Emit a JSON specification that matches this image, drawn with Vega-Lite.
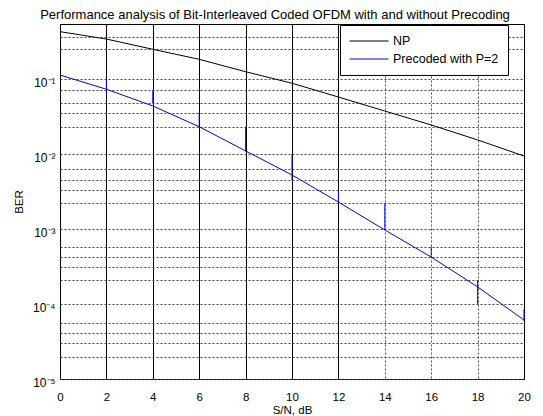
{
  "$schema": "https://vega.github.io/schema/vega-lite/v6.json",
  "width": 464,
  "height": 355,
  "autosize": {"type": "none"},
  "padding": {"left": 60, "top": 24, "right": 19, "bottom": 37},
  "background": "white",
  "title": {"text": "Performance analysis of Bit-Interleaved Coded OFDM with and without Precoding", "fontSize": 13, "font": "Liberation Sans", "fontWeight": "normal", "offset": 2, "dx": -17, "color": "black"},
  "config": {"view": {"stroke": "black", "strokeWidth": 1}, "font": "Liberation Sans"},
  "datasets": {
    "curves": [
      {"snr": 0, "ber": 0.428, "series": "NP"},
      {"snr": 2, "ber": 0.341, "series": "NP"},
      {"snr": 4, "ber": 0.249, "series": "NP"},
      {"snr": 6, "ber": 0.183, "series": "NP"},
      {"snr": 8, "ber": 0.125, "series": "NP"},
      {"snr": 10, "ber": 0.0878, "series": "NP"},
      {"snr": 12, "ber": 0.0575, "series": "NP"},
      {"snr": 14, "ber": 0.0374, "series": "NP"},
      {"snr": 16, "ber": 0.0244, "series": "NP"},
      {"snr": 18, "ber": 0.0154, "series": "NP"},
      {"snr": 20, "ber": 0.0094, "series": "NP"},
      {"snr": 0, "ber": 0.113, "series": "Precoded with P=2"},
      {"snr": 2, "ber": 0.073, "series": "Precoded with P=2"},
      {"snr": 4, "ber": 0.0437, "series": "Precoded with P=2"},
      {"snr": 6, "ber": 0.0231, "series": "Precoded with P=2"},
      {"snr": 8, "ber": 0.011, "series": "Precoded with P=2"},
      {"snr": 10, "ber": 0.00525, "series": "Precoded with P=2"},
      {"snr": 12, "ber": 0.00229, "series": "Precoded with P=2"},
      {"snr": 14, "ber": 0.00097, "series": "Precoded with P=2"},
      {"snr": 16, "ber": 0.000423, "series": "Precoded with P=2"},
      {"snr": 18, "ber": 0.000169, "series": "Precoded with P=2"},
      {"snr": 20, "ber": 0.0000612, "series": "Precoded with P=2"}
    ],
    "segs": [
      {"snr": 2, "ber": 0.1, "ber_end": 0.073},
      {"snr": 4, "ber": 0.0713, "ber_end": 0.0474},
      {"snr": 6, "ber": 0.0356, "ber_end": 0.0231},
      {"snr": 8, "ber": 0.0231, "ber_end": 0.0108},
      {"snr": 10, "ber": 0.01, "ber_end": 0.00446},
      {"snr": 12, "ber": 0.00331, "ber_end": 0.00229},
      {"snr": 14, "ber": 0.0022, "ber_end": 0.00097},
      {"snr": 16, "ber": 0.000581, "ber_end": 0.000423},
      {"snr": 18, "ber": 0.000209, "ber_end": 0.0001},
      {"snr": 20, "ber": 0.0000849, "ber_end": 0.0000588}
    ]
  },
  "encoding": {
    "x": {
      "field": "snr", "type": "quantitative",
      "scale": {"domain": [0, 20], "nice": false, "zero": false},
      "axis": {
        "title": "S/N, dB", "titleFont": "Liberation Sans", "titleFontSize": 11.5, "titleFontWeight": "normal", "titleColor": "black", "titlePadding": 2,
        "values": [0, 2, 4, 6, 8, 10, 12, 14, 16, 18, 20],
        "labelFont": "Liberation Sans", "labelFontSize": 11.5, "labelColor": "black", "labelPadding": 12, "labelFlush": false, "labelOverlap": false,
        "ticks": false, "domain": false,
        "grid": true,
        "gridColor": {"condition": {"test": "datum.value >= 14 && datum.value < 20", "value": "#555555"}, "value": "#000000"},
        "gridDash": {"condition": {"test": "datum.value >= 14 && datum.value < 20", "value": [2, 2]}, "value": []},
        "gridWidth": 1, "gridOpacity": 1
      }
    },
    "y": {
      "field": "ber", "type": "quantitative",
      "scale": {"type": "log", "domain": [0.00001, 0.5412], "nice": false, "zero": false},
      "axis": {
        "title": "BER", "titleFont": "Liberation Sans", "titleFontSize": 11.5, "titleFontWeight": "normal", "titleColor": "black", "titlePadding": 8,
        "values": [0.1, 0.01, 0.001, 0.0001, 0.00001, 0.3664, 0.2489, 0.0713, 0.0474, 0.0356, 0.0231, 0.00625, 0.00446, 0.00331, 0.0022, 0.000581, 0.000427, 0.000314, 0.000209, 0.0000566, 0.0000414, 0.0000305, 0.0000198],
        "labelExpr": "abs(log(datum.value)/LN10 - round(log(datum.value)/LN10)) < 0.001 ? ('10' + ['⁰','⁻¹','⁻²','⁻³','⁻⁴','⁻⁵'][-round(log(datum.value)/LN10)]) : ''",
        "labelFont": "Liberation Sans", "labelFontSize": 12, "labelColor": "black", "labelPadding": 5, "labelOffset": 3, "labelOverlap": false, "labelFlush": false, "labelBound": false,
        "ticks": false, "domain": false,
        "grid": true, "gridColor": "#444444", "gridDash": [2, 2], "gridWidth": 1, "gridOpacity": 1
      }
    }
  },
  "layer": [
    {
      "data": {"name": "curves"},
      "mark": {"type": "line", "strokeWidth": 1},
      "encoding": {
        "color": {
          "field": "series", "type": "nominal",
          "scale": {"domain": ["NP", "Precoded with P=2"], "range": ["#000000", "#0000ff"]},
          "legend": {
            "title": null, "orient": "none", "legendX": 280, "legendY": 1,
            "fillColor": "white", "strokeColor": "black", "padding": 9, "rowPadding": 4, "cornerRadius": 0,
            "labelFont": "Liberation Sans", "labelFontSize": 12.5, "labelColor": "black", "labelOffset": 30,
            "symbolType": "M-1,0H5", "symbolSize": 169, "symbolStrokeWidth": 1
          }
        }
      }
    },
    {
      "data": {"name": "segs"},
      "mark": {"type": "rule", "color": "#0000ff", "strokeWidth": 1},
      "encoding": {"y2": {"field": "ber_end"}}
    }
  ]
}
